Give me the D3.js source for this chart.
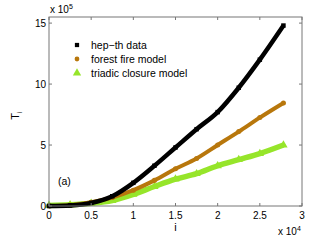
<!DOCTYPE html>
<html>
<head>
<meta charset="utf-8">
<script src="https://cdn.jsdelivr.net/npm/d3@7"></script>
<style>
  body { margin: 0; background: #fff; }
  text { font-family: "Liberation Sans", Arial, sans-serif; }
</style>
</head>
<body>
<div id="app"></div>
<script>
// i in units of 1e4, T_i in units of 1e5
const iVals = [0, 0.25, 0.5, 0.75, 1.0, 1.25, 1.5, 1.75, 2.0, 2.25, 2.5, 2.78];
const hepTh = [0, 0.05, 0.25, 0.8, 1.9, 3.3, 4.8, 6.3, 7.7, 9.7, 12.0, 14.8];
const forestFire = [0, 0.07, 0.3, 0.7, 1.3, 2.1, 3.05, 3.9, 5.0, 6.1, 7.25, 8.45];
const triadic = [0.05, 0.1, 0.22, 0.45, 0.95, 1.6, 2.2, 2.65, 3.3, 3.8, 4.3, 5.0];
const xTicks = [0, 0.5, 1, 1.5, 2, 2.5, 3];
const yTicks = [0, 5, 10, 15];
const seriesNames = ['hep\u2212th data', 'forest fire model', 'triadic closure model'];

const width = 327, height = 243;
const m = { left: 49, right: 25, top: 17, bottom: 37 };

const svg = d3.select('#app').append('svg')
	.attr('width', width)
	.attr('height', height);

const x = d3.scaleLinear().domain([0, 3]).range([m.left, width - m.right]);
const y = d3.scaleLinear().domain([0, 15.5]).range([height - m.bottom, m.top]);

const series = [
	{ name: seriesNames[0], values: hepTh, color: '#000000', shape: 'square', width: 4.5 },
	{ name: seriesNames[1], values: forestFire, color: '#b8770c', shape: 'circle', width: 4 },
	{ name: seriesNames[2], values: triadic, color: '#96e52a', shape: 'triangle', width: 5.5 },
];

const symbolOf = (shape, size) => {
	if (shape === 'square') return d3.symbol(d3.symbolSquare, size)();
	if (shape === 'circle') return d3.symbol(d3.symbolCircle, size)();
	return d3.symbol(d3.symbolTriangle, size)();
};

const plot = svg.append('g');
const line = d3.line().x((d) => x(d[0])).y((d) => y(d[1])).curve(d3.curveMonotoneX);

// draw from last to first so black is on top
series.slice().reverse().forEach((s) => {
	const pts = iVals.map((v, k) => [v, s.values[k]]);
	plot.append('path')
		.attr('d', line(pts))
		.attr('fill', 'none')
		.attr('stroke', s.color)
		.attr('stroke-width', s.width)
		.attr('stroke-linejoin', 'round');
	plot.selectAll(null)
		.data(pts)
		.join('path')
		.attr('transform', (d) => `translate(${x(d[0])},${y(d[1])})`)
		.attr('d', symbolOf(s.shape, s.shape === 'triangle' ? 30 : 20))
		.attr('fill', s.color);
});

// box and ticks
const axisColor = '#777';
const x0 = x(0), x1 = x(3), y0 = y(0), y1 = y(15.5);
svg.append('rect')
	.attr('x', x0).attr('y', y1)
	.attr('width', x1 - x0).attr('height', y0 - y1)
	.attr('fill', 'none').attr('stroke', axisColor).attr('stroke-width', 1);

const tl = 3;
xTicks.forEach((t) => {
	svg.append('line').attr('x1', x(t)).attr('x2', x(t)).attr('y1', y0).attr('y2', y0 - tl).attr('stroke', axisColor);
	svg.append('line').attr('x1', x(t)).attr('x2', x(t)).attr('y1', y1).attr('y2', y1 + tl).attr('stroke', axisColor);
	svg.append('text')
		.attr('x', x(t)).attr('y', y0 + 12.5)
		.attr('text-anchor', 'middle')
		.attr('font-size', 10)
		.text(t);
});
yTicks.forEach((t) => {
	svg.append('line').attr('x1', x0).attr('x2', x0 + tl).attr('y1', y(t)).attr('y2', y(t)).attr('stroke', axisColor);
	svg.append('line').attr('x1', x1).attr('x2', x1 - tl).attr('y1', y(t)).attr('y2', y(t)).attr('stroke', axisColor);
	svg.append('text')
		.attr('x', x0 - 3).attr('y', y(t) + 3.5)
		.attr('text-anchor', 'end')
		.attr('font-size', 10)
		.text(t);
});

// exponent labels
const expY = svg.append('text').attr('x', x0 + 1).attr('y', 13).attr('font-size', 10);
expY.append('tspan').text('x 10');
expY.append('tspan').attr('dy', -4).attr('font-size', 7).text('5');

const expX = svg.append('text').attr('x', 278).attr('y', 235).attr('font-size', 10);
expX.append('tspan').text('x 10');
expX.append('tspan').attr('dy', -4).attr('font-size', 7).text('4');

// axis titles
svg.append('text')
	.attr('x', (x0 + x1) / 2).attr('y', 231)
	.attr('text-anchor', 'middle')
	.attr('font-size', 11)
	.text('i');

const ti = svg.append('text')
	.attr('transform', `translate(19,${(y0 + y1) / 2 + 4}) rotate(-90)`)
	.attr('text-anchor', 'middle')
	.attr('font-size', 11);
ti.append('tspan').text('T');
ti.append('tspan').attr('dy', 3).attr('font-size', 7).text('i');

// panel label
svg.append('text')
	.attr('x', 58).attr('y', 185)
	.attr('font-size', 10.5)
	.text('(a)');

// legend
const leg = svg.append('g').attr('transform', 'translate(77,45)');
series.forEach((s, k) => {
	leg.append('path')
		.attr('transform', `translate(0,${k * 14})`)
		.attr('d', symbolOf(s.shape, s.shape === 'triangle' ? 30 : 18))
		.attr('fill', s.color);
	leg.append('text')
		.attr('x', 14).attr('y', k * 14 + 3.8)
		.attr('font-size', 10.5)
		.text(s.name);
});
</script>
</body>
</html>
